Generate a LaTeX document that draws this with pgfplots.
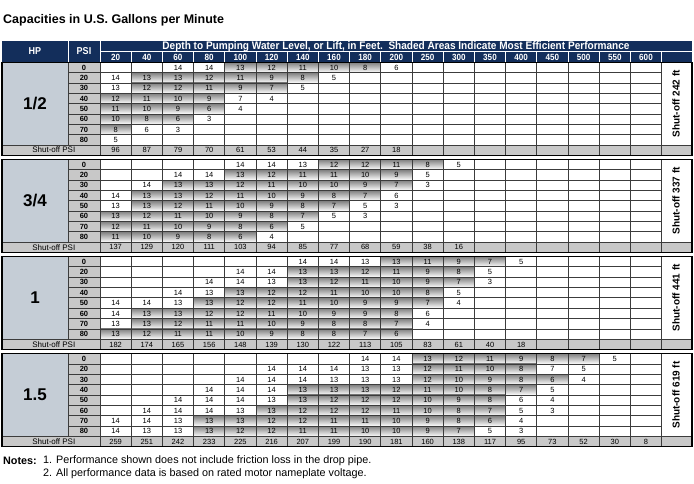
\documentclass[border=0pt]{standalone}
\usepackage{pgfplots}
\pgfplotsset{compat=1.18}
\usepackage{pgfplotstable}
\usepackage{fontspec}
\setmainfont{Liberation Sans}
\newfontfamily\condfont{Liberation Sans}[FakeStretch=0.9]
\newfontfamily\headfont{Liberation Sans}[FakeStretch=0.915]

\definecolor{navy}{HTML}{132E5B}
\definecolor{hpbg}{HTML}{C5CDD6}
\definecolor{psibg}{HTML}{C8C8C8}
\definecolor{shade}{HTML}{E7E9ED}
\definecolor{sobg}{HTML}{C8C8C8}
\definecolor{gridc}{HTML}{3C3C3C}

% r = row index, psi, then gallons per minute at each depth (ft); row r=8 is shut-off PSI
\pgfplotstableread{
r psi d20 d40 d60 d80 d100 d120 d140 d160 d180 d200 d250 d300 d350 d400 d450 d500 d550 d600
0 0  nan nan 14 14 13 12 11 10 8 6 nan nan nan nan nan nan nan nan
1 20 14 13 13 12 11 9 8 5 nan nan nan nan nan nan nan nan nan nan
2 30 13 12 12 11 9 7 5 nan nan nan nan nan nan nan nan nan nan nan
3 40 12 11 10 9 7 4 nan nan nan nan nan nan nan nan nan nan nan nan
4 50 11 10 9 6 4 nan nan nan nan nan nan nan nan nan nan nan nan nan
5 60 10 8 6 3 nan nan nan nan nan nan nan nan nan nan nan nan nan nan
6 70 8 6 3 nan nan nan nan nan nan nan nan nan nan nan nan nan nan nan
7 80 5 nan nan nan nan nan nan nan nan nan nan nan nan nan nan nan nan nan
8 -1 96 87 79 70 61 53 44 35 27 18 nan nan nan nan nan nan nan nan
}\tabA
\pgfplotstableread{
r psi d20 d40 d60 d80 d100 d120 d140 d160 d180 d200 d250 d300 d350 d400 d450 d500 d550 d600
0 0  nan nan nan nan 14 14 13 12 12 11 8 5 nan nan nan nan nan nan
1 20 nan nan 14 14 13 12 11 11 10 9 5 nan nan nan nan nan nan nan
2 30 nan 14 13 13 12 11 10 10 9 7 3 nan nan nan nan nan nan nan
3 40 14 13 13 12 11 10 9 8 7 6 nan nan nan nan nan nan nan nan
4 50 13 13 12 11 10 9 8 7 5 3 nan nan nan nan nan nan nan nan
5 60 13 12 11 10 9 8 7 5 3 nan nan nan nan nan nan nan nan nan
6 70 12 11 10 9 8 6 5 nan nan nan nan nan nan nan nan nan nan nan
7 80 11 10 9 8 6 4 nan nan nan nan nan nan nan nan nan nan nan nan
8 -1 137 129 120 111 103 94 85 77 68 59 38 16 nan nan nan nan nan nan
}\tabB
\pgfplotstableread{
r psi d20 d40 d60 d80 d100 d120 d140 d160 d180 d200 d250 d300 d350 d400 d450 d500 d550 d600
0 0  nan nan nan nan nan nan 14 14 13 13 11 9 7 5 nan nan nan nan
1 20 nan nan nan nan 14 14 13 13 12 11 9 8 5 nan nan nan nan nan
2 30 nan nan nan 14 14 13 13 12 11 10 9 7 3 nan nan nan nan nan
3 40 nan nan 14 13 13 12 12 11 10 10 8 5 nan nan nan nan nan nan
4 50 14 14 13 13 12 12 11 10 9 9 7 4 nan nan nan nan nan nan
5 60 14 13 13 12 12 11 10 9 9 8 6 nan nan nan nan nan nan nan
6 70 13 13 12 11 11 10 9 8 8 7 4 nan nan nan nan nan nan nan
7 80 13 12 11 11 10 9 8 8 7 6 nan nan nan nan nan nan nan nan
8 -1 182 174 165 156 148 139 130 122 113 105 83 61 40 18 nan nan nan nan
}\tabC
\pgfplotstableread{
r psi d20 d40 d60 d80 d100 d120 d140 d160 d180 d200 d250 d300 d350 d400 d450 d500 d550 d600
0 0  nan nan nan nan nan nan nan nan 14 14 13 12 11 9 8 7 5 nan
1 20 nan nan nan nan nan 14 14 14 13 13 12 11 10 8 7 5 nan nan
2 30 nan nan nan nan 14 14 14 13 13 13 12 10 9 8 6 4 nan nan
3 40 nan nan nan 14 14 14 13 13 13 12 11 10 8 7 5 nan nan nan
4 50 nan nan 14 14 14 13 13 12 12 12 10 9 8 6 4 nan nan nan
5 60 nan 14 14 14 13 13 12 12 12 11 10 8 7 5 3 nan nan nan
6 70 14 14 13 13 13 12 12 11 11 10 9 8 6 4 nan nan nan nan
7 80 14 13 13 13 12 12 11 11 10 10 9 7 5 3 nan nan nan nan
8 -1 259 251 242 233 225 216 207 199 190 181 160 138 117 95 73 52 30 8
}\tabD

\newcommand\tablesection[4]{%
  \fill[hpbg] (2,#1) rectangle (68,#1+82.8);
  \fill[psibg] (68,#1) rectangle (100,#1+82.8);
  \foreach \r/\a/\b in {#4}
    \fill[shade] ({100+31.2*\a},{#1+10.35*\r}) rectangle ({100+31.2*(\b+1)},{#1+10.35*(\r+1)});
  \fill[sobg] (2,#1+82.8) rectangle (692,#1+92.8);
  \foreach \k in {1,...,7}
    \draw[gridc,line width=0.8bp] (68,{#1+10.35*\k})--(661.6,{#1+10.35*\k});
  \draw[gridc,line width=0.9bp] (2,#1+82.8)--(692,#1+82.8);
  \draw[gridc,line width=0.8bp] (68,#1)--(68,#1+82.8);
  \foreach \j in {0,...,18}
    \draw[gridc,line width=0.8bp] ({100+31.2*\j},#1)--({100+31.2*\j},#1+92.8);
  \draw[black,line width=1.1bp] (2,#1) rectangle (692,#1+92.8);
  \node[font=\bfseries\fontsize{17bp}{19bp}\selectfont] at (35,#1+41.4) {#2};
  \foreach \p [count=\k from 0] in {0,20,30,40,50,60,70,80}
    \node[font=\bfseries\fontsize{7.5bp}{9bp}\selectfont] at (84,{#1+10.35*(\k+0.5)}) {\p};
  \node[anchor=east,inner sep=0pt,font=\fontsize{8bp}{9bp}\selectfont] at (75.5,#1+87.8) {Shut-off PSI};
  \node[rotate=90,font=\bfseries\fontsize{10bp}{11bp}\selectfont] at (676,#1+41.4) {Shut-off #3 ft};
}

\newcommand\cellval{\ifnum\strcmp{\pgfplotspointmeta}{nan}=0 \else\pgfplotspointmeta\fi}

\begin{document}
\begin{tikzpicture}
\useasboundingbox (0,0) rectangle (694bp,484bp);
\begin{scope}[x=1bp,y=-1bp,shift={(0bp,484bp)}]
  \node[anchor=west,inner sep=0pt,font=\bfseries\fontsize{12.5bp}{14bp}\selectfont] at (3,20) {Capacities in U.S. Gallons per Minute};
  \fill[navy] (2,41) rectangle (692,62.3);
  \draw[white,line width=1bp] (68,41)--(68,62.3) (100,41)--(100,62.3) (100,52)--(692,52);
  \foreach \j in {1,...,18}
    \draw[white,line width=1bp] ({100+31.2*\j},52)--({100+31.2*\j},62.3);
  \node[white,font=\condfont\bfseries\fontsize{10bp}{11bp}\selectfont] at (35,51.5) {HP};
  \node[white,font=\condfont\bfseries\fontsize{10bp}{11bp}\selectfont] at (84,51.5) {PSI};
  \node[white,font=\headfont\bfseries\fontsize{11bp}{12bp}\selectfont] at (396,46.3) {Depth to Pumping Water Level, or Lift, in Feet.\ \ Shaded Areas Indicate Most Efficient Performance};
  \foreach \lab [count=\j] in {20,40,60,80,100,120,140,160,180,200,250,300,350,400,450,500,550,600}
    \node[white,font=\condfont\bfseries\fontsize{9bp}{10bp}\selectfont] at ({100+31.2*(\j-0.5)},57.3) {\lab};
  \tablesection{62.3}{1/2}{242}{0/4/8,1/1/6,2/1/5,3/0/3,4/0/3,5/0/2,6/0/0}
  \tablesection{159.4}{3/4}{337}{0/7/10,1/4/9,2/2/9,3/1/8,4/1/7,5/0/6,6/0/5,7/0/4}
  \tablesection{256.5}{1}{441}{0/9/12,1/6/11,2/6/11,3/4/10,4/3/10,5/1/9,6/1/9,7/0/9}
  \tablesection{353.6}{1.5}{619}{0/10/15,1/10/13,2/10/14,3/6/13,4/6/12,5/5/12,6/3/12,7/3/11}
  \node[anchor=west,inner sep=0pt,font=\bfseries\fontsize{10.8bp}{12bp}\selectfont] at (3,461) {Notes:};
  \node[anchor=west,inner sep=0pt,font=\fontsize{10.8bp}{12bp}\selectfont] at (43,461) {1. Performance shown does not include friction loss in the drop pipe.};
  \node[anchor=west,inner sep=0pt,font=\fontsize{10.8bp}{12bp}\selectfont] at (43,474) {2. All performance data is based on rated motor nameplate voltage.};
\end{scope}
\begin{axis}[at={(0bp,0bp)},anchor=south west,scale only axis,width=694bp,height=484bp,
  xmin=0,xmax=694,ymin=0,ymax=484,y dir=reverse,hide axis,clip=false,
  cellnum/.style={draw=none,mark=none,point meta=explicit symbolic,
    nodes near coords={\cellval},
    every node near coord/.style={anchor=center,inner sep=0pt,text=black,
      font=\fontsize{7.5bp}{9bp}\selectfont}}]
\pgfplotsinvokeforeach{2,...,19}{
  \addplot[cellnum] table[x expr={100+31.2*(#1-1.5)},y expr={62.3+(\thisrow{r}+0.5)*10.35},meta index=#1]{\tabA};
  \addplot[cellnum] table[x expr={100+31.2*(#1-1.5)},y expr={159.4+(\thisrow{r}+0.5)*10.35},meta index=#1]{\tabB};
  \addplot[cellnum] table[x expr={100+31.2*(#1-1.5)},y expr={256.5+(\thisrow{r}+0.5)*10.35},meta index=#1]{\tabC};
  \addplot[cellnum] table[x expr={100+31.2*(#1-1.5)},y expr={353.6+(\thisrow{r}+0.5)*10.35},meta index=#1]{\tabD};
}
\end{axis}
\end{tikzpicture}
\end{document}
